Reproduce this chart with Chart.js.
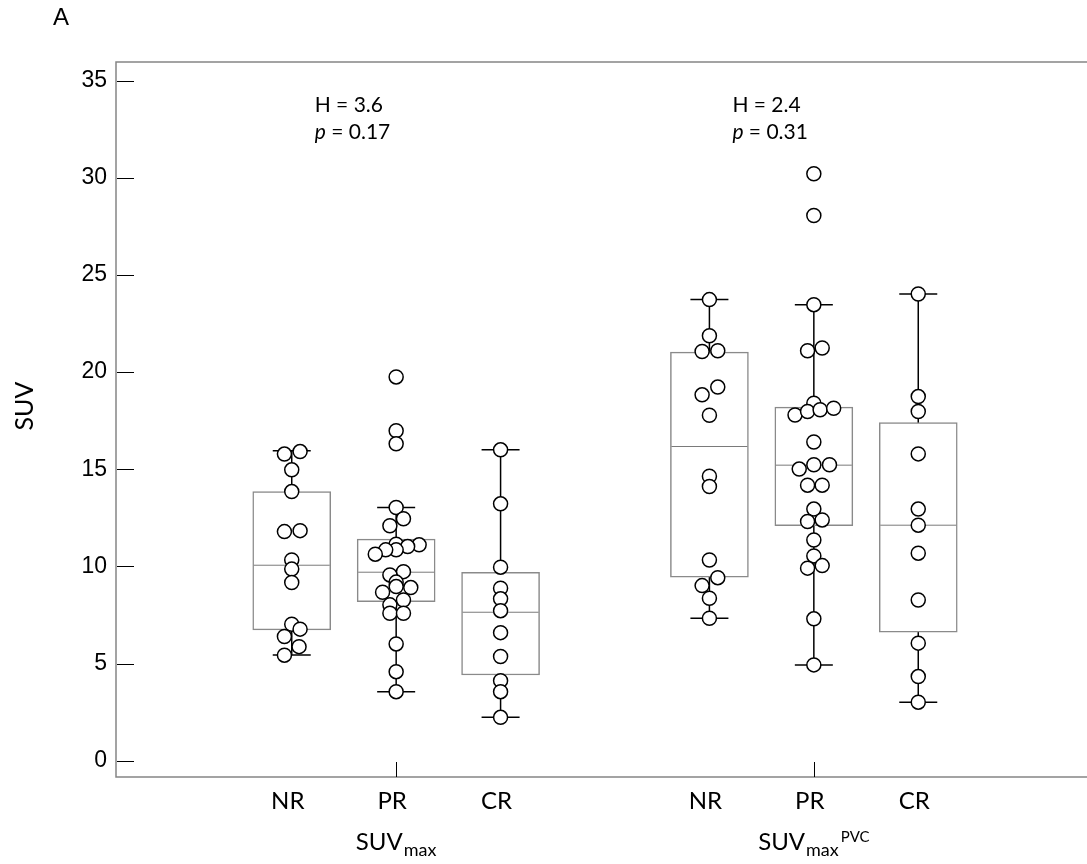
<!DOCTYPE html>
<html>
<head>
<meta charset="utf-8">
<script src="https://cdn.jsdelivr.net/npm/chart.js@4.4.1/dist/chart.umd.min.js"></script>
<style>
  html, body { margin: 0; padding: 0; background: #fff; overflow: hidden; }
  #wrap { width: 1087px; height: 864px; position: relative; }
  canvas { display: block; }
</style>
</head>
<body>
<div id="wrap"><canvas id="chart"></canvas></div>
<script>
// categories and where each box sits on the x axis
const categories = ['NR', 'PR', 'CR', 'NR', 'PR', 'CR'];
const boxPositions = [1, 2, 3, 5, 6, 7];
const yTicks = [0, 5, 10, 15, 20, 25, 30, 35];

// group titles under the axis (SUVmax and SUVmax^PVC), centred on the PR box
const groupCenters = [2, 6];
const groupMain = ['SUV', 'SUV'];
const groupSub = ['max', 'max'];
const groupSup = ['', 'PVC'];

// Kruskal-Wallis results printed above each group
const statH = ['3.6', '2.4'];
const statP = ['0.17', '0.31'];

// box statistics, one entry per box
const boxQ1 = [6.73, 8.19, 4.41, 9.44, 12.09, 6.61];
const boxMedian = [10.06, 9.70, 7.64, 16.17, 15.21, 12.12];
const boxQ3 = [13.85, 11.40, 9.70, 21.03, 18.20, 17.40];
const whiskerLow = [5.44, 3.55, 2.23, 7.33, 4.93, 3.01];
const whiskerHigh = [15.95, 13.03, 16.00, 23.73, 23.47, 24.02];

// individual patients (values) and their swarm jitter (x units)
const nrMax = [15.78, 15.91, 14.97, 13.85, 11.79, 11.84, 10.33, 9.86, 9.17, 7.02, 6.77, 6.39, 5.87, 5.43];
const nrMaxJitter = [-0.07, 0.08, 0, 0, -0.07, 0.08, 0, 0, 0, 0, 0.08, -0.07, 0.07, -0.07];
const prMax = [19.75, 16.98, 16.31, 13.03, 12.45, 12.09, 11.14, 11.11, 11.02, 10.85, 10.85, 10.63,
  9.73, 9.56, 9.19, 8.96, 8.91, 8.67, 8.27, 8.02, 7.59, 7.59, 6.01, 4.58, 3.55];
const prMaxJitter = [0, 0, 0, 0, 0.07, -0.06, 0, 0.22, 0.11, 0, -0.1, -0.2,
  0.07, -0.06, 0, 0, 0.14, -0.13, 0.07, -0.06, -0.06, 0.07, 0, 0, 0];
const crMax = [16.00, 13.22, 9.96, 8.88, 8.33, 7.72, 6.59, 5.36, 4.12, 3.55, 2.23];
const crMaxJitter = [0, 0, 0, 0, 0, 0, 0, 0, 0, 0, 0];

const nrPvc = [23.73, 21.87, 21.06, 21.10, 19.23, 18.83, 17.78, 14.64, 14.11, 10.33, 9.42, 9.01, 8.36, 7.33];
const nrPvcJitter = [0, 0, -0.07, 0.08, 0.08, -0.07, 0, 0, 0, 0, 0.08, -0.07, 0, 0];
const prPvc = [30.21, 28.06, 23.47, 21.10, 21.24, 18.40, 17.79, 17.97, 18.06, 18.14, 16.40, 15.01, 15.23,
  15.23, 14.18, 14.18, 12.95, 12.31, 12.39, 11.36, 10.54, 9.91, 10.04, 7.30, 4.93];
const prPvcJitter = [0, 0, 0, -0.06, 0.08, 0, -0.18, -0.06, 0.06, 0.19, 0, -0.14, 0,
  0.15, -0.06, 0.08, 0, -0.06, 0.08, 0, 0, -0.06, 0.08, 0, 0];
const crPvc = [24.02, 18.74, 17.97, 15.79, 12.95, 12.12, 10.68, 8.27, 6.05, 4.33, 3.01];
const crPvcJitter = [0, 0, 0, 0, 0, 0, 0, 0, 0, 0, 0];

const groupValues = [nrMax, prMax, crMax, nrPvc, prPvc, crPvc];
const groupJitter = [nrMaxJitter, prMaxJitter, crMaxJitter, nrPvcJitter, prPvcJitter, crPvcJitter];

const LABEL_FONT = 'Lato, "Open Sans", sans-serif';
const NUM_FONT = '"Liberation Sans", Arial, sans-serif';

// draws the frame, inner tick marks and all the free text
const decorPlugin = {
  id: 'decor',
  afterDraw(chart) {
    const { ctx, chartArea, scales } = chart;
    const xs = scales.x, ys = scales.y;
    ctx.save();

    // frame: top, left, bottom (open on the right)
    ctx.strokeStyle = '#858585';
    ctx.lineWidth = 1.5;
    ctx.beginPath();
    ctx.moveTo(chartArea.right, chartArea.top);
    ctx.lineTo(chartArea.left, chartArea.top);
    ctx.lineTo(chartArea.left, chartArea.bottom);
    ctx.lineTo(chartArea.right, chartArea.bottom);
    ctx.stroke();

    // y tick marks point into the plot
    ctx.strokeStyle = '#000';
    ctx.lineWidth = 1;
    yTicks.forEach(v => {
      const y = Math.round(ys.getPixelForValue(v)) + 0.5;
      ctx.beginPath();
      ctx.moveTo(chartArea.left + 1, y);
      ctx.lineTo(chartArea.left + 18, y);
      ctx.stroke();
    });

    // x tick marks, one per group
    groupCenters.forEach(p => {
      const x = Math.round(xs.getPixelForValue(p)) + 0.5;
      ctx.beginPath();
      ctx.moveTo(x, chartArea.bottom);
      ctx.lineTo(x, chartArea.bottom - 15);
      ctx.stroke();
    });

    ctx.fillStyle = '#000';
    ctx.textBaseline = 'alphabetic';

    // group titles with sub/superscripts
    groupCenters.forEach((p, i) => {
      ctx.font = '24px ' + LABEL_FONT;
      const wMain = ctx.measureText(groupMain[i]).width;
      ctx.font = '18px ' + LABEL_FONT;
      const wSub = ctx.measureText(groupSub[i]).width;
      ctx.font = '15px ' + LABEL_FONT;
      const wSup = groupSup[i] ? ctx.measureText(groupSup[i]).width + 2 : 0;
      const total = wMain + 1 + wSub + wSup;
      let x = xs.getPixelForValue(p) - total / 2;
      ctx.textAlign = 'left';
      ctx.font = '24px ' + LABEL_FONT;
      ctx.fillText(groupMain[i], x, 850);
      x += wMain + 1;
      ctx.font = '18px ' + LABEL_FONT;
      ctx.fillText(groupSub[i], x, 856);
      x += wSub + 2;
      if (groupSup[i]) {
        ctx.font = '15px ' + LABEL_FONT;
        ctx.fillText(groupSup[i], x, 842);
      }
    });

    // H and p values above each group
    statH.forEach((h, i) => {
      const x = xs.getPixelForValue(boxPositions[i * 3] + 0.22);
      const y1 = ys.getPixelForValue(33.37);
      ctx.textAlign = 'left';
      ctx.font = '21px ' + LABEL_FONT;
      ctx.fillText('H = ' + h, x, y1);
      ctx.font = 'italic 21px ' + LABEL_FONT;
      ctx.fillText('p', x, y1 + 27);
      const wp = ctx.measureText('p').width;
      ctx.font = '21px ' + LABEL_FONT;
      ctx.fillText(' = ' + statP[i], x + wp, y1 + 27);
    });

    // panel letter
    ctx.font = '24px ' + NUM_FONT;
    ctx.textAlign = 'left';
    ctx.fillText('A', 53, 25);

    // y axis title
    ctx.save();
    ctx.translate(33, 406);
    ctx.rotate(-Math.PI / 2);
    ctx.textAlign = 'center';
    ctx.font = '25px ' + LABEL_FONT;
    ctx.fillText('SUV', 0, 0);
    ctx.restore();

    ctx.restore();
  }
};

const pointData = groupValues.flatMap((vals, g) =>
  vals.map((v, i) => ({ x: boxPositions[g] + groupJitter[g][i], y: v })));

const whiskerSets = boxPositions.map((p, i) => ({
  type: 'scatter',
  data: [{ x: p, y: whiskerLow[i] }, { x: p, y: whiskerHigh[i] }],
  showLine: true,
  borderColor: '#000',
  borderWidth: 1.5,
  pointRadius: 0,
  order: 5
}));

const ctx = document.getElementById('chart').getContext('2d');
new Chart(ctx, {
  type: 'scatter',
  data: {
    datasets: [
      ...whiskerSets,
      {
        type: 'bar',
        data: boxPositions.map((p, i) => ({ x: p, y: [boxQ1[i], boxQ3[i]] })),
        backgroundColor: '#fff',
        borderColor: '#8a8a8a',
        borderWidth: 1.5,
        borderSkipped: false,
        barThickness: 78,
        order: 4
      },
      {
        type: 'scatter',
        data: boxPositions.map((p, i) => ({ x: p, y: boxMedian[i] })),
        pointStyle: 'line',
        pointRadius: 38,
        pointBorderColor: '#7a7a7a',
        pointBorderWidth: 1,
        order: 3
      },
      {
        type: 'scatter',
        data: boxPositions.flatMap((p, i) => [{ x: p, y: whiskerLow[i] }, { x: p, y: whiskerHigh[i] }]),
        pointStyle: 'line',
        pointRadius: 19,
        pointBorderColor: '#000',
        pointBorderWidth: 1.5,
        order: 2
      },
      {
        type: 'scatter',
        data: pointData,
        pointRadius: 7,
        pointBackgroundColor: '#fff',
        pointBorderColor: '#000',
        pointBorderWidth: 1.5,
        order: 1
      }
    ]
  },
  options: {
    responsive: true,
    maintainAspectRatio: false,
    animation: false,
    events: [],
    layout: { autoPadding: false, padding: { top: 62, left: 0, right: 0, bottom: 0 } },
    plugins: {
      legend: { display: false },
      tooltip: { enabled: false }
    },
    scales: {
      x: {
        type: 'linear',
        min: -0.683,
        max: 8.616,
        offset: false,
        grid: { display: false, drawTicks: false },
        border: { display: false },
        afterBuildTicks: scale => { scale.ticks = boxPositions.map(v => ({ value: v })); },
        afterFit: scale => {
          scale.height = 87;
          scale.paddingLeft = 0;
          scale.paddingRight = 0;
        },
        ticks: {
          autoSkip: false,
          maxRotation: 0,
          padding: 10,
          labelOffset: -4,
          color: '#000',
          font: { family: LABEL_FONT, size: 24 },
          callback: (value, index) => categories[index]
        }
      },
      y: {
        type: 'linear',
        min: -0.84,
        max: 35.96,
        grid: { display: false, drawTicks: false },
        border: { display: false },
        afterBuildTicks: scale => { scale.ticks = yTicks.map(v => ({ value: v })); },
        afterFit: scale => {
          scale.width = 116;
          scale.paddingTop = 0;
          scale.paddingBottom = 0;
        },
        ticks: {
          padding: 9,
          color: '#000',
          font: { family: NUM_FONT, size: 23 }
        }
      }
    }
  },
  plugins: [decorPlugin]
});
</script>
</body>
</html>
